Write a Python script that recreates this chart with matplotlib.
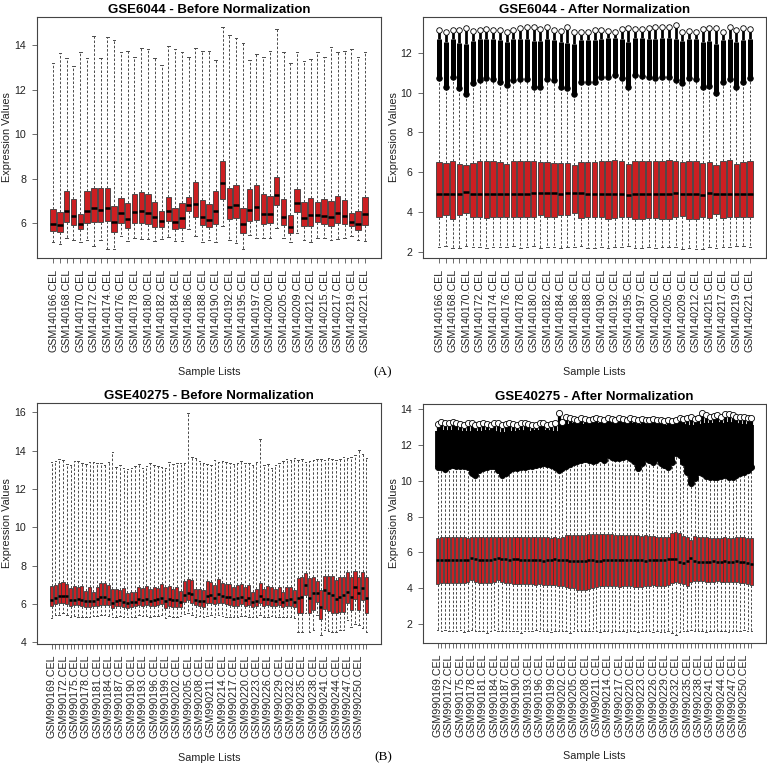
import numpy as np
import matplotlib.pyplot as plt

plt.rcParams['font.family'] = ['Liberation Sans', 'DejaVu Sans']

# ---------------- GSE6044 ----------------
gse6044_ids = [166, 167, 168, 169, 170, 171, 172, 173, 174, 175, 176, 177, 178, 179,
               180, 181, 182, 183, 184, 185, 186, 187, 188, 189, 190, 191, 192, 193,
               195, 196, 197, 198, 200, 202, 205, 207, 209, 210, 212, 213, 215, 216,
               217, 218, 219, 220, 221]
gse6044_names = ['GSM%d.CEL' % (140000 + i) for i in gse6044_ids]

# before normalization
b6044_q3 = [6.61, 6.49, 7.45, 7.06, 6.40, 7.42, 7.59, 7.56, 7.56, 6.76,
            7.11, 6.88, 7.29, 7.39, 7.29, 6.93, 6.54, 7.18, 6.67, 6.88,
            7.18, 7.83, 7.03, 6.84, 7.44, 8.79, 7.59, 7.71, 6.66, 7.51,
            7.71, 7.29, 7.21, 8.05, 7.06, 6.36, 7.53, 6.93, 7.11, 6.96,
            7.06, 6.97, 7.21, 7.02, 6.46, 6.54, 7.18]
b6044_med = [5.97, 5.93, 6.55, 6.31, 5.97, 6.54, 6.66, 6.58, 6.69, 6.06,
             6.45, 6.18, 6.48, 6.55, 6.47, 6.27, 6.09, 6.54, 6.07, 6.21,
             6.82, 6.84, 6.29, 6.14, 6.52, 7.81, 6.73, 6.81, 5.96, 6.57,
             6.73, 6.42, 6.42, 7.27, 6.29, 5.82, 6.91, 6.22, 6.36, 6.36,
             6.33, 6.29, 6.43, 6.33, 6.06, 5.97, 6.39]
b6044_q1 = [5.66, 5.58, 6.07, 5.90, 5.73, 6.00, 6.03, 6.06, 6.11, 5.61,
            6.02, 5.79, 6.02, 6.02, 5.97, 5.81, 5.84, 6.09, 5.72, 5.76,
            6.54, 6.26, 5.90, 5.81, 5.97, 7.06, 6.20, 6.21, 5.55, 6.09,
            6.14, 5.96, 5.99, 6.81, 5.90, 5.57, 6.48, 5.85, 5.87, 6.03,
            5.94, 5.85, 6.00, 5.94, 5.85, 5.69, 5.90]
b6044_lo = [5.16, 5.06, 5.31, 5.24, 5.16, 5.24, 4.98, 5.24, 4.83, 4.82,
            5.42, 5.19, 5.31, 5.27, 5.27, 5.21, 5.27, 5.36, 5.19, 5.19,
            5.73, 5.42, 5.16, 5.24, 5.16, 5.87, 5.24, 5.12, 4.85, 5.45,
            5.31, 5.31, 5.31, 5.76, 5.31, 5.16, 5.54, 5.24, 5.13, 5.31,
            5.31, 5.24, 5.27, 5.31, 5.42, 5.24, 5.19]
b6044_hi = [13.18, 13.65, 13.40, 13.07, 13.67, 13.40, 14.42, 13.40, 14.37, 14.22,
            13.70, 13.74, 13.47, 13.88, 13.84, 13.43, 13.10, 13.97, 13.82, 13.67,
            13.47, 13.86, 13.73, 13.75, 13.31, 14.81, 14.46, 14.33, 14.07, 13.31,
            13.60, 13.45, 13.75, 14.73, 13.67, 13.18, 13.67, 13.30, 13.36, 13.70,
            13.47, 13.89, 13.67, 13.75, 13.84, 13.47, 13.67]

# after normalization
a6044_q3 = [6.50, 6.45, 6.57, 6.42, 6.37, 6.47, 6.57, 6.55, 6.55, 6.50,
            6.42, 6.55, 6.55, 6.55, 6.55, 6.53, 6.53, 6.48, 6.45, 6.45,
            6.37, 6.53, 6.52, 6.52, 6.55, 6.58, 6.60, 6.55, 6.42, 6.58,
            6.55, 6.55, 6.55, 6.58, 6.60, 6.57, 6.50, 6.58, 6.55, 6.45,
            6.50, 6.37, 6.55, 6.60, 6.42, 6.50, 6.55]
a6044_med = [4.91, 4.92, 4.89, 4.90, 5.00, 4.93, 4.90, 4.92, 4.91, 4.90,
             4.89, 4.93, 4.92, 4.93, 4.94, 4.94, 4.95, 4.94, 4.93, 4.94,
             4.95, 4.94, 4.93, 4.90, 4.90, 4.91, 4.90, 4.90, 4.85, 4.90,
             4.91, 4.90, 4.91, 4.92, 4.89, 4.97, 4.92, 4.90, 4.93, 4.87,
             4.97, 4.92, 4.91, 4.92, 4.90, 4.91, 4.90]
a6044_q1 = [3.74, 3.84, 3.67, 3.86, 3.94, 3.77, 3.74, 3.69, 3.74, 3.77,
            3.74, 3.77, 3.74, 3.74, 3.77, 3.84, 3.74, 3.77, 3.84, 3.87,
            3.94, 3.69, 3.74, 3.74, 3.74, 3.67, 3.71, 3.74, 3.77, 3.67,
            3.67, 3.69, 3.71, 3.67, 3.67, 3.74, 3.81, 3.67, 3.67, 3.77,
            3.71, 3.91, 3.69, 3.74, 3.77, 3.74, 3.74]
a6044_lo = [2.27, 2.30, 2.22, 2.20, 2.32, 2.27, 2.25, 2.22, 2.27, 2.25,
            2.27, 2.32, 2.20, 2.27, 2.30, 2.22, 2.25, 2.27, 2.22, 2.25,
            2.27, 2.30, 2.22, 2.20, 2.25, 2.22, 2.25, 2.27, 2.30, 2.20,
            2.22, 2.25, 2.22, 2.27, 2.25, 2.25, 2.17, 2.22, 2.17, 2.15,
            2.27, 2.22, 2.27, 2.25, 2.32, 2.30, 2.25]
a6044_hi = [10.72, 10.26, 10.77, 10.21, 9.91, 10.46, 10.63, 10.72, 10.67, 10.54,
            10.38, 10.63, 10.67, 10.67, 10.26, 10.26, 10.67, 10.63, 10.26, 10.21,
            9.93, 10.54, 10.54, 10.54, 10.77, 10.77, 10.88, 10.72, 10.29, 10.88,
            10.83, 10.77, 10.72, 10.80, 10.77, 10.63, 10.46, 10.72, 10.67, 10.26,
            10.33, 9.99, 10.54, 10.67, 10.26, 10.54, 10.72]
# outliers: dense band top and highest outlier per sample
a6044_dense = [12.70, 12.55, 12.70, 12.50, 12.45, 12.60, 12.70, 12.70, 12.70, 12.65,
               12.55, 12.70, 12.70, 12.70, 12.60, 12.60, 12.70, 12.65, 12.55, 12.50,
               12.45, 12.65, 12.65, 12.65, 12.70, 12.75, 12.75, 12.70, 12.55, 12.75,
               12.75, 12.70, 12.70, 12.75, 12.75, 12.70, 12.60, 12.70, 12.70, 12.55,
               12.60, 12.45, 12.65, 12.70, 12.55, 12.65, 12.70]
a6044_top = [13.14, 13.05, 13.14, 13.14, 13.22, 13.10, 13.14, 13.17, 13.14, 13.14,
             13.05, 13.14, 13.22, 13.30, 13.27, 13.17, 13.27, 13.14, 13.10, 13.30,
             13.05, 13.02, 13.05, 13.14, 13.14, 13.10, 13.05, 13.17, 13.22, 13.17,
             13.17, 13.22, 13.27, 13.30, 13.30, 13.37, 13.05, 13.10, 13.05, 13.17,
             13.22, 13.22, 13.05, 13.30, 13.14, 13.22, 13.17]

# ---------------- GSE40275 ----------------
gse40275_names = ['GSM%d.CEL' % i for i in range(990169, 990253)]

b40275_q3 = [6.93, 6.96, 7.10, 7.12, 7.06, 6.80, 6.93, 6.89, 6.93, 6.66,
             6.86, 6.63, 6.86, 7.10, 7.10, 6.98, 6.75, 6.75, 6.72, 6.80,
             6.54, 6.63, 6.63, 6.89, 6.80, 6.93, 6.75, 6.86, 6.84, 7.03,
             6.89, 6.93, 6.75, 6.89, 6.66, 7.19, 7.31, 7.24, 6.75, 6.75,
             6.72, 7.20, 7.15, 6.98, 7.27, 7.10, 7.06, 7.03, 6.89, 6.98,
             7.01, 6.89, 6.98, 6.63, 6.75, 7.10, 6.75, 6.93, 6.86, 6.75,
             6.89, 6.63, 6.86, 6.89, 6.72, 7.33, 7.41, 7.62, 7.33, 7.38,
             7.20, 6.72, 7.45, 7.45, 7.45, 7.24, 7.38, 7.38, 7.67, 7.41,
             7.73, 7.38, 7.67, 7.41]
b40275_med = [6.19, 6.28, 6.42, 6.42, 6.40, 6.19, 6.19, 6.23, 6.19, 6.16,
              6.16, 6.16, 6.23, 6.37, 6.37, 6.23, 6.05, 6.16, 6.19, 6.11,
              6.02, 6.11, 6.11, 6.23, 6.19, 6.25, 6.16, 6.19, 6.23, 6.32,
              6.16, 6.23, 6.19, 6.19, 6.11, 6.45, 6.58, 6.51, 6.19, 6.16,
              6.16, 6.42, 6.45, 6.28, 6.49, 6.40, 6.37, 6.37, 6.23, 6.28,
              6.37, 6.19, 6.28, 6.11, 6.16, 6.40, 6.23, 6.23, 6.19, 6.16,
              6.23, 6.11, 6.19, 6.23, 6.11, 6.28, 6.37, 6.98, 6.28, 6.54,
              6.54, 5.85, 6.72, 6.54, 6.45, 6.23, 6.37, 6.45, 6.63, 6.37,
              6.86, 6.54, 6.80, 6.28]
b40275_q1 = [5.88, 5.97, 6.02, 6.02, 5.97, 5.88, 5.93, 5.93, 5.88, 5.85,
             5.85, 5.88, 5.91, 5.95, 5.93, 5.93, 5.76, 5.88, 5.88, 5.85,
             5.76, 5.85, 5.88, 5.93, 5.88, 5.93, 5.88, 5.88, 5.93, 5.98,
             5.79, 5.88, 5.85, 5.85, 5.85, 6.11, 6.19, 6.05, 5.93, 5.88,
             5.85, 6.02, 6.02, 5.97, 6.05, 6.02, 5.97, 5.93, 5.88, 5.91,
             5.97, 5.88, 5.93, 5.85, 5.88, 6.02, 5.88, 5.93, 5.88, 5.88,
             5.93, 5.85, 5.88, 5.90, 5.85, 5.50, 5.53, 6.45, 5.50, 5.67,
             6.11, 5.18, 5.71, 5.64, 5.53, 5.50, 5.58, 5.58, 6.02, 5.67,
             6.23, 5.67, 6.19, 5.50]
b40275_lo = [5.24, 5.41, 5.41, 5.50, 5.41, 5.32, 5.36, 5.32, 5.32, 5.29,
             5.32, 5.36, 5.36, 5.41, 5.41, 5.36, 5.29, 5.32, 5.36, 5.29,
             5.29, 5.32, 5.29, 5.41, 5.36, 5.36, 5.32, 5.36, 5.36, 5.41,
             5.24, 5.36, 5.32, 5.32, 5.36, 5.46, 5.50, 5.41, 5.32, 5.36,
             5.29, 5.36, 5.41, 5.32, 5.41, 5.36, 5.32, 5.32, 5.29, 5.32,
             5.36, 5.36, 5.32, 5.32, 5.32, 5.41, 5.32, 5.32, 5.36, 5.29,
             5.32, 5.29, 5.32, 5.32, 5.24, 4.54, 4.54, 5.50, 4.54, 4.63,
             5.41, 4.37, 4.63, 4.59, 4.54, 4.54, 4.63, 4.63, 5.15, 4.80,
             4.97, 4.89, 4.71, 4.54]
b40275_hi = [13.42, 13.47, 13.56, 13.51, 13.30, 13.25, 13.46, 13.46, 13.37, 13.30,
             13.42, 13.39, 13.37, 13.33, 13.25, 13.42, 13.91, 13.16, 13.25, 13.07,
             13.04, 13.07, 13.19, 13.30, 13.07, 13.19, 13.33, 13.25, 13.21, 13.16,
             13.07, 13.39, 13.30, 13.33, 13.33, 13.33, 15.98, 13.68, 13.60, 13.47,
             13.33, 13.30, 13.25, 13.51, 13.42, 13.47, 13.42, 13.33, 13.30, 13.37,
             13.47, 13.37, 13.37, 13.25, 13.42, 14.59, 13.25, 13.30, 13.12, 13.25,
             13.37, 13.47, 13.54, 13.51, 13.60, 13.51, 13.56, 13.42, 13.47, 13.51,
             13.58, 13.54, 13.51, 13.60, 13.56, 13.51, 13.56, 13.68, 13.60, 13.68,
             13.77, 14.03, 13.82, 13.60]

a40275_q3 = [6.79, 6.86, 6.84, 6.86, 6.86, 6.86, 6.84, 6.86, 6.82, 6.84,
             6.86, 6.86, 6.84, 6.86, 6.88, 6.86, 6.84, 6.84, 6.86, 6.86,
             6.84, 6.86, 6.86, 6.84, 6.84, 6.86, 6.88, 6.86, 6.86, 6.84,
             6.82, 6.84, 6.82, 6.84, 6.97, 6.97, 6.99, 6.97, 6.95, 6.97,
             7.03, 7.01, 7.03, 7.03, 7.01, 7.03, 7.01, 6.99, 6.97, 6.95,
             6.97, 6.95, 6.97, 6.95, 6.93, 6.95, 6.93, 6.93, 6.88, 6.86,
             6.86, 6.84, 7.08, 7.12, 7.10, 6.90, 6.84, 6.69, 6.90, 6.88,
             6.84, 6.84, 6.82, 6.80, 6.80, 6.82, 6.84, 6.82, 6.80, 6.84,
             6.86, 6.84, 6.82, 6.82]
a40275_med = [5.58, 5.58, 5.60, 5.58, 5.58, 5.56, 5.58, 5.56, 5.60, 5.67,
              5.62, 5.58, 5.56, 5.56, 5.58, 5.62, 5.71, 5.65, 5.62, 5.60,
              5.62, 5.62, 5.58, 5.56, 5.56, 5.58, 5.56, 5.56, 5.54, 5.56,
              5.58, 5.62, 5.60, 5.58, 5.56, 5.54, 5.54, 5.50, 5.52, 5.54,
              5.56, 5.56, 5.54, 5.54, 5.56, 5.58, 5.56, 5.58, 5.60, 5.56,
              5.58, 5.60, 5.58, 5.58, 5.56, 5.54, 5.56, 5.58, 5.56, 5.56,
              5.58, 5.62, 5.65, 5.65, 5.46, 5.43, 5.52, 5.67, 5.50, 5.46,
              5.48, 5.48, 5.48, 5.50, 5.48, 5.46, 5.50, 5.48, 5.48, 5.50,
              5.48, 5.44, 5.40, 5.37]
a40275_q1 = [4.24, 4.29, 4.27, 4.31, 4.29, 4.27, 4.31, 4.29, 4.33, 4.44,
             4.35, 4.29, 4.27, 4.29, 4.31, 4.33, 4.44, 4.37, 4.29, 4.27,
             4.24, 4.24, 4.22, 4.24, 4.22, 4.24, 4.20, 4.22, 4.20, 4.18,
             4.20, 4.16, 4.14, 4.11, 4.07, 4.03, 3.99, 3.92, 3.90, 3.92,
             3.96, 4.03, 4.07, 4.11, 4.11, 4.14, 4.14, 4.11, 4.09, 4.11,
             4.14, 4.11, 4.09, 4.07, 4.09, 4.11, 4.14, 4.16, 4.14, 4.11,
             4.14, 4.18, 4.29, 4.35, 4.29, 4.22, 4.14, 4.35, 4.40, 4.42,
             4.40, 4.37, 4.35, 4.37, 4.40, 4.37, 4.35, 4.33, 4.33, 4.35,
             4.31, 4.29, 4.24, 4.20]
a40275_lo = [1.65, 1.63, 1.68, 1.63, 1.60, 1.63, 1.65, 1.55, 1.63, 1.65,
             1.63, 1.60, 1.63, 1.52, 1.63, 1.65, 1.63, 1.60, 1.63, 1.63,
             1.60, 1.63, 1.52, 1.63, 1.60, 1.63, 1.65, 1.60, 1.63, 1.60,
             1.55, 1.63, 1.60, 1.60, 1.63, 1.52, 1.60, 1.63, 1.60, 1.63,
             1.60, 1.63, 1.60, 1.58, 1.63, 1.60, 1.58, 1.63, 1.60, 1.60,
             1.58, 1.63, 1.60, 1.58, 1.60, 1.63, 1.60, 1.58, 1.60, 1.55,
             1.58, 1.60, 1.50, 1.39, 1.58, 1.63, 1.60, 1.65, 1.63, 1.60,
             1.63, 1.58, 1.63, 1.60, 1.63, 1.63, 1.60, 1.58, 1.63, 1.63,
             1.60, 1.65, 1.63, 1.63]
a40275_hi = [10.76, 10.79, 10.66, 10.83, 10.89, 10.83, 10.83, 10.83, 10.79, 10.42,
             10.33, 10.61, 10.70, 10.79, 10.83, 10.83, 10.61, 10.33, 10.42, 10.61,
             10.70, 10.70, 10.76, 10.79, 10.83, 10.83, 10.89, 10.94, 10.98, 10.94,
             10.89, 10.76, 10.61, 10.70, 10.83, 10.94, 11.07, 11.13, 11.17, 11.20,
             11.17, 11.13, 11.17, 11.26, 11.17, 11.45, 11.35, 11.26, 11.26, 11.35,
             11.39, 11.26, 11.13, 10.70, 10.98, 11.26, 11.17, 11.07, 11.26, 11.02,
             10.89, 10.76, 11.07, 11.58, 11.45, 11.07, 10.51, 9.86, 10.14, 10.51,
             10.42, 10.27, 10.20, 10.20, 10.20, 10.27, 10.33, 10.20, 10.20, 10.33,
             10.42, 10.51, 10.61, 10.76]
a40275_dense = [12.80, 12.78, 12.82, 12.80, 12.85, 12.82, 12.80, 12.78, 12.80, 12.75,
                12.72, 12.78, 12.80, 12.82, 12.80, 12.78, 12.75, 12.70, 12.72, 12.78,
                12.80, 12.80, 12.82, 12.80, 12.78, 12.80, 12.82, 12.85, 12.85, 12.82,
                12.80, 12.78, 12.75, 12.85, 13.15, 13.20, 13.25, 13.25, 13.20, 13.20,
                13.25, 13.22, 13.20, 13.25, 13.25, 13.30, 13.28, 13.25, 13.25, 13.28,
                13.30, 13.25, 13.22, 13.15, 13.20, 13.25, 13.22, 13.20, 13.25, 13.18,
                13.15, 13.12, 13.20, 13.30, 13.28, 13.20, 13.15, 13.05, 13.10, 13.15,
                13.20, 13.22, 13.25, 13.25, 13.28, 13.25, 13.25, 13.28, 13.25, 13.22,
                13.20, 13.18, 13.15, 13.10]
a40275_top = [13.18, 13.29, 13.22, 13.25, 13.27, 13.22, 13.18, 13.14, 13.25, 13.22,
              13.14, 13.18, 13.22, 13.18, 13.14, 13.22, 13.25, 13.14, 13.18, 13.22,
              13.18, 13.14, 13.25, 13.22, 13.18, 13.14, 13.10, 13.22, 13.25, 13.14,
              13.18, 13.22, 13.81, 13.29, 13.55, 13.50, 13.46, 13.42, 13.50, 13.46,
              13.42, 13.46, 13.50, 13.46, 13.42, 13.50, 13.46, 13.42, 13.50, 13.46,
              13.42, 13.50, 13.46, 13.42, 13.46, 13.42, 13.38, 13.46, 13.42, 13.38,
              13.34, 13.38, 13.34, 13.38, 13.50, 13.46, 13.50, 13.55, 13.46, 13.50,
              13.77, 13.68, 13.59, 13.64, 13.68, 13.59, 13.74, 13.72, 13.68, 13.59,
              13.55, 13.59, 13.50, 13.50]

RED = '#cc1f22'
EDGE = '#3a3a3a'
W, H = 767, 764


def panel(rect, names, q1, med, q3, lo, hi, title, ylim, yticks, step,
          dense=None, top=None, band_lw=3.4, ms=4.2):
    n = len(names)
    for arr in (q1, med, q3, lo, hi):
        assert len(arr) == n, (title, len(arr), n)
    ax = fig.add_axes(rect)
    pos = np.arange(1, n + 1)
    stats = [dict(q1=a, med=b, q3=c, whislo=d, whishi=e, fliers=[])
             for a, b, c, d, e in zip(q1, med, q3, lo, hi)]
    ax.bxp(stats, positions=pos, widths=0.8, patch_artist=True, showfliers=False,
           boxprops=dict(facecolor=RED, edgecolor=EDGE, linewidth=0.6),
           medianprops=dict(color='black', linewidth=1.8, solid_capstyle='butt'),
           whiskerprops=dict(color='#4a4a4a', linewidth=0.7, linestyle=(0, (2.6, 1.8))),
           capprops=dict(color='#4a4a4a', linewidth=0.7))
    if dense is not None:
        assert len(dense) == n and len(top) == n
        ax.vlines(pos, hi, dense, color='black', linewidth=band_lw)
        ax.vlines(pos, dense, top, color='black', linewidth=band_lw * 0.55)
        ax.plot(pos, top, 'o', mfc='white', mec='black', ms=ms, mew=0.6, ls='none')
        ax.plot(pos, hi, 'o', mfc='black', mec='black', ms=ms, mew=0.6, ls='none')
    pad = 0.04 * n
    ax.set_xlim(0.5 - pad, n + 0.5 + pad)
    ax.set_ylim(*ylim)
    ax.set_yticks(yticks)
    ax.set_xticks(pos)
    ax.set_xticklabels([s if i % step == 0 else '' for i, s in enumerate(names)],
                       rotation=90, fontsize=7.7, color='#222222')
    ax.tick_params(axis='y', labelsize=7.7, labelcolor='#222222')
    ax.tick_params(direction='out', length=3.6, width=0.6, color='#555555', pad=4)
    for sp in ax.spines.values():
        sp.set_color('#444444')
        sp.set_linewidth(0.8)
    ax.set_title(title, fontsize=9.5, fontweight='bold', pad=3)
    ax.set_ylabel('Expression Values', fontsize=7.8, color='#222222', va='center')
    ax.yaxis.set_label_coords(-0.086, 0.5)
    ax.set_xlabel('Sample Lists', fontsize=7.8, color='#222222', va='center')
    ax.xaxis.set_label_coords(0.5, -0.472)
    return ax


fig = plt.figure(figsize=(W / 100, H / 100), dpi=100)


def rect(x0, x1, y0, y1):
    return [x0 / W, 1 - y1 / H, (x1 - x0) / W, (y1 - y0) / H]


panel(rect(37, 381, 17, 258), gse6044_names, b6044_q1, b6044_med, b6044_q3,
      b6044_lo, b6044_hi, 'GSE6044 - Before Normalization', (4.43, 15.26),
      [6, 8, 10, 12, 14], 2)
panel(rect(423, 766, 17, 258), gse6044_names, a6044_q1, a6044_med, a6044_q3,
      a6044_lo, a6044_hi, 'GSE6044 - After Normalization', (1.70, 13.79),
      [2, 4, 6, 8, 10, 12], 2, dense=a6044_dense, top=a6044_top,
      band_lw=3.6, ms=4.0)
panel(rect(37, 381, 403, 644), gse40275_names, b40275_q1, b40275_med, b40275_q3,
      b40275_lo, b40275_hi, 'GSE40275 - Before Normalization', (3.90, 16.49),
      [4, 6, 8, 10, 12, 14, 16], 3)
panel(rect(423, 766, 404, 643), gse40275_names, a40275_q1, a40275_med, a40275_q3,
      a40275_lo, a40275_hi, 'GSE40275 - After Normalization', (0.94, 14.30),
      [2, 4, 6, 8, 10, 12, 14], 3, dense=a40275_dense, top=a40275_top,
      band_lw=4.2, ms=4.4)

fig.text(383 / W, 1 - 372 / H, '(A)', family='Liberation Serif', fontsize=9.5,
         ha='center', va='center')
fig.text(383 / W, 1 - 757 / H, '(B)', family='Liberation Serif', fontsize=9.5,
         ha='center', va='center')

fig.savefig('out.png', dpi=100)
